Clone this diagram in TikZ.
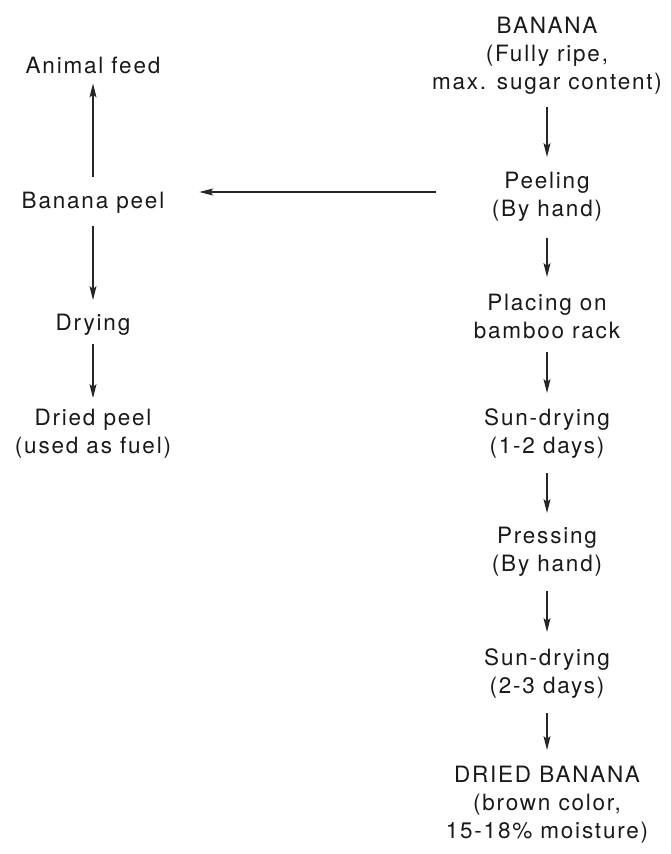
\documentclass[tikz,border=0pt]{standalone}
\usepackage{fontspec}
\setmainfont{TeX Gyre Heros}[LetterSpace=8]
\usetikzlibrary{arrows.meta}
\begin{document}
\begin{tikzpicture}[x=1pt,y=-1pt,
  lbl/.style={anchor=north,inner sep=0pt,outer sep=0pt,align=center,
    font=\fontsize{22.5}{28}\selectfont,text=black!90},
  arr/.style={draw=black!85,line width=1.2pt,-{Stealth[length=14pt,width=7pt,inset=3pt]}}]
\useasboundingbox (0,0) rectangle (671,854);
% right column
\node[lbl] (banana) at (547,17) {BANANA\\(Fully ripe,\\max. sugar content)};
\node[lbl] (peeling) at (547,172) {Peeling\\(By hand)};
\node[lbl] (placing) at (547,294) {Placing on\\bamboo rack};
\node[lbl] (sunone) at (547,409) {Sun-drying\\(1-2 days)};
\node[lbl] (press) at (547,527) {Pressing\\(By hand)};
\node[lbl] (suntwo) at (547,649) {Sun-drying\\(2-3 days)};
\node[lbl] (dried) at (547,766) {DRIED BANANA\\(brown color,\\15-18\% moisture)};
% left column
\node[lbl] (feed) at (93,57) {Animal feed};
\node[lbl] (peel) at (93,192) {Banana peel};
\node[lbl] (drying) at (93,314) {Drying};
\node[lbl] (driedpeel) at (93,409) {Dried peel\\(used as fuel)};
% arrows right
\draw[arr,shorten <=12.4pt,shorten >=15pt] (banana.south) -- (peeling.north);
\draw[arr,shorten <=16.4pt,shorten >=17pt] (peeling.south) -- (placing.north);
\draw[arr,shorten <=13.7pt,shorten >=16pt] (placing.south) -- (sunone.north);
\draw[arr,shorten <=14.4pt,shorten >=14pt] (sunone.south) -- (press.north);
\draw[arr,shorten <=14.4pt,shorten >=17pt] (press.south) -- (suntwo.north);
\draw[arr,shorten <=14.4pt,shorten >=16pt] (suntwo.south) -- (dried.north);
% arrows left
\draw[arr,shorten <=15pt,shorten >=9.7pt] (peel.north) -- (feed.south);
\draw[arr,shorten <=12.4pt,shorten >=14pt] (peel.south) -- (drying.north);
\draw[arr,shorten <=8.4pt,shorten >=11pt] (drying.south) -- (driedpeel.north);
\draw[arr,shorten <=56pt,shorten >=35pt] (peeling.west |- peel.north) -- (peel.north east);
\end{tikzpicture}
\end{document}
